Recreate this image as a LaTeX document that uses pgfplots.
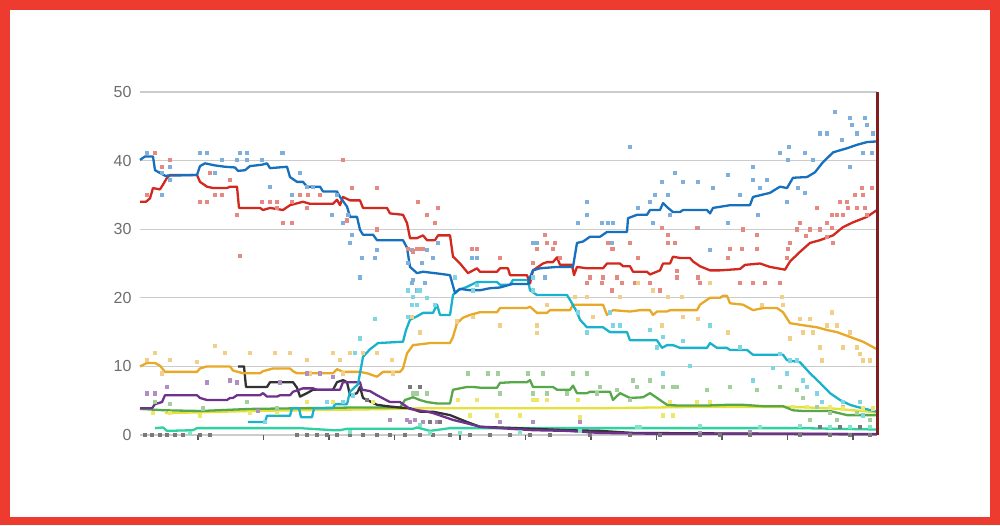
\documentclass[border=0pt]{standalone}
\usepackage{pgfplots}
\pgfplotsset{compat=1.18}
\usepackage{fontspec}
\setmainfont{Liberation Sans}
\definecolor{frame}{HTML}{EE3B30}
\definecolor{cblue}{HTML}{1670BE}
\definecolor{cred}{HTML}{D2281E}
\definecolor{ccyan}{HTML}{19B2CC}
\definecolor{corange}{HTML}{E8A828}
\definecolor{cgreen}{HTML}{56A84A}
\definecolor{cyellow}{HTML}{E6E03A}
\definecolor{cpurple}{HTML}{6E328C}
\definecolor{cdark}{HTML}{333333}
\definecolor{cteal}{HTML}{2CD2A0}
\definecolor{cline}{HTML}{821E1E}
\definecolor{tickgray}{HTML}{6E6E6E}
\begin{document}
\begin{tikzpicture}
\fill[frame] (0pt,0pt) rectangle (1000pt,525pt);
\fill[white] (10pt,8pt) rectangle (990pt,515pt);
\begin{axis}[
  at={(140pt,90pt)}, anchor=south west,
  scale only axis, width=737pt, height=343pt,
  xmin=140, xmax=877, ymin=0, ymax=50,
  clip=false,
  axis line style={draw=none},
  ytick={0,10,20,30,40,50},
  ymajorgrids, grid style={draw=black!20, line width=1.2pt},
  ytick style={draw=none},
  xtick={198,263.5,329,394.5,460,525.5,591,656.5,722,787.5,853},
  xticklabels={},
  xtick style={draw=black!65, line width=1.2pt},
  tick align=outside, tick pos=left, major tick length=5pt,
  /pgf/number format/assume math mode=true,
  yticklabel style={font=\fontsize{16}{16}\selectfont, text=tickgray},
  dot/.style={only marks, mark=square*, mark size=1.6pt, color=#1, mark options={draw=none, fill=#1}},
  ln/.style={line width=2.3pt, line join=round, no marks},
]
% ---- poll dots ----
\addplot[dot=cblue!55] coordinates {
(147,41.1)(162,38.2)(162,35)(170,39.1)(170,37.2)(200,41.1)(207,41.1)(210,38.2)(215,38.2)(222,40.1)(237,40.1)(240,41.1)(247,41.1)(247,40.1)(262,40.1)(270,36.2)(282,41.1)(292,35)(300,38.2)(307,36.2)(332,32.1)(337,35)(348,32.1)(283,41.1)(313,36.2)(343,31)(352,29.2)(350,28)(362,25.9)(360,23)(377,27)(375,25.9)(408,25.1)(412,22.2)(417,21.1)(425,22.2)(412,27)(422,25.1)(427,27)(433,25.9)(438,28)(413,22.6)(472,25.9)(477,25.9)(533,28)(537,28)(578,31)(587,34)(587,32.1)(602,31)(608,31)(613,31)(612,28)(630,42)(638,33.1)(650,34)(655,35)(662,36.9)(668,35)(675,38.2)(683,36.9)(698,36.9)(713,36)(653,31)(670,32.1)(698,30.2)(710,27)(545,23)(728,38)(753,39.1)(753,37.2)(767,37.2)(760,36)(740,35)(780,41.1)(789,42)(788,40.1)(805,41.1)(813,40.1)(820,44)(827,44)(835,47.1)(850,46.2)(865,46.2)(852,45.2)(867,45.2)(842,43)(857,44)(863,41.1)(872,41.1)(873,44)(850,39.1)(805,35.3)(787,34)(798,36)(758,32.1)(728,31)
};
\addplot[dot=cred!55] coordinates {
(155,41.1)(147,35)(162,39.1)(170,40.1)(200,34)(207,34)(210,38.2)(215,35)(222,35)(230,37.2)(262,34)(270,34)(277,34)(292,34)(300,35)(308,35)(320,35)(343,40.1)(352,36)(377,36)(237,32.1)(277,33.1)(307,33.1)(240,26.1)(283,31)(292,31)(347,31.3)(377,30)(418,34)(427,32.1)(408,27.1)(417,27.1)(423,27.1)(438,33.1)(435,31)(413,26.8)(420,27.1)(472,27.1)(477,27.1)(500,25.9)(545,29.2)(547,28)(537,27.1)(533,25.1)(553,27.1)(560,25.9)(613,27.1)(590,23)(603,23)(617,23)(555,28)(587,22.2)(602,22.2)(612,21.1)(622,22.2)(635,22.2)(650,22.2)(660,21.1)(608,28)(612,27.1)(630,28)(662,30.2)(668,29.2)(668,28)(675,28)(638,25.9)(677,24)(677,23)(697,30.2)(698,23)(700,22.2)(710,22.2)(740,22.2)(753,22.2)(765,22.2)(780,22.2)(862,36)(872,36)(863,35)(855,35)(840,34)(847,34)(848,33.1)(857,33.1)(865,33.1)(867,32.1)(817,33.1)(832,32.1)(837,32.1)(843,32.1)(800,31)(827,31)(832,30.2)(797,30)(810,30)(820,30)(827,28.9)(833,28)(806,29)(790,28)(757,29.2)(743,30)(788,27.1)(742,27.1)(730,27.1)(757,27.1)(728,25.9)(787,25.9)
};
\addplot[dot=ccyan!55] coordinates {
(408,21.1)(413,20.2)(418,21.1)(412,19)(417,19)(408,17.2)(375,17)(360,14.1)(420,21.1)(427,20)(435,19)(455,23)(473,21.1)(477,21.9)(533,21.1)(533,23)(587,15)(578,17.9)(610,17.9)(613,16)(620,16)(650,15.3)(663,14.3)(657,12.8)(683,13.7)(710,16)(690,10.1)(663,9)(740,12.8)(753,8)(773,9.8)(780,11.9)(790,10.9)(797,10.9)(787,9)(803,8)(807,7)(817,6.1)(822,4.8)(843,4.8)(860,4.8)(873,3.9)(863,2.9)(265,1.9)(327,4.8)(343,4.8)(353,5.8)(355,12)
};
\addplot[dot=corange!55] coordinates {
(155,12)(215,13)(147,11)(162,9)(170,11)(197,10.7)(225,12)(250,12)(275,12)(290,12)(307,11)(333,12)(340,11)(350,12)(363,12)(377,12)(392,11)(393,9)(343,9)(310,9)(412,17.2)(420,15)(457,16.6)(473,17.2)(500,16)(537,16)(537,14.9)(547,19)(575,20.2)(587,20.2)(620,20.2)(593,17.2)(638,22.2)(653,21.1)(668,20.2)(682,20.2)(710,22.2)(662,16)(683,17.2)(698,17)(728,15)(762,19)(782,20.2)(783,19)(800,17)(810,17)(803,15)(813,15)(827,16)(837,16)(832,17.9)(790,14.1)(820,12.8)(843,12.8)(857,12.8)(860,11.9)(870,10.9)(863,10.9)(822,10.9)(850,15)
};
\addplot[dot=cgreen!55] coordinates {
(468,9)(488,9)(498,9)(528,9)(543,9)(573,9)(587,9)(600,7)(617,6.6)(633,8)(500,6.1)(533,6.1)(547,6.1)(567,6.1)(597,6.1)(630,5.1)(413,6.1)(417,6.1)(427,6.1)(637,7)(650,8)(663,7)(673,7)(677,7)(707,6.6)(730,7)(757,6.6)(780,7)(797,6.6)(803,5.4)(817,4.1)(830,3.3)(843,4.1)(857,3.2)(870,2.2)(810,2.2)(837,2.2)(155,4.8)(170,4.6)(203,3.9)(247,4.8)(277,3.9)
};
\addplot[dot=cyellow!75] coordinates {
(458,5.1)(477,5.1)(533,5.1)(537,5.1)(547,5.1)(578,5.1)(470,2.9)(497,2.9)(520,2.9)(580,2.6)(670,4.8)(697,4.8)(710,4.8)(663,2.9)(673,2.9)(793,4.1)(807,4.1)(830,4.1)(843,3.9)(863,3.9)(873,3.9)(153,3.2)(170,3.2)(200,2.9)(250,3.3)(277,3.3)(307,4.8)(333,4.8)(373,4.8)
};
\addplot[dot=cpurple!55] coordinates {
(147,6.1)(155,6.1)(167,7)(207,7.7)(230,8)(237,7.7)(258,3.6)(280,7.7)(307,9)(320,9)(333,8.5)(390,2.2)(410,1.9)(423,1.9)(430,1.9)(437,1.9)(407,2.2)(415,2.2)(500,1.9)(533,1.9)(580,1.9)(700,0.3)(750,0.4)
};
\addplot[dot=cdark!65] coordinates {
(410,7)(420,7)(367,5.1)(145,0)(152,0)(160,0)(167,0)(175,0)(183,0)(200,0)(210,0)(297,0)(307,0)(317,0)(327,0)(337,0)(350,0)(363,0)(377,0)(390,0)(405,0)(420,0)(433,0)(450,0)(470,0)(490,0)(510,0)(530,0)(550,0)(590,0)(630,0)(660,0)(700,0)(720,0)(750,0)(800,0)(830,0)(850,0)(870,0)(820,1.2)(840,1.2)(860,1.2)(430,1.9)(440,1.9)
};
\addplot[dot=cteal!60] coordinates {
(190,0.3)(350,0.5)(420,1.5)(430,0.3)(460,0.3)(520,0.5)(580,0.6)(640,1.2)(700,1.3)(760,1.2)(800,1.3)(830,1.2)(850,1.2)(870,1.2)(637,1.2)
};
% ---- averages ----
\addplot[ln, cteal] coordinates {
(155,1.0)(163,1.1)(167,0.6)(193,0.7)(197,1.0)(273,1.0)(300,1.0)(333,0.7)(340,0.7)(347,0.9)(413,0.9)(417,1.1)(430,0.6)(450,1.0)(600,1.0)(650,1.0)(700,1.0)(800,1.0)(877,0.8)
};
\addplot[ln, cyellow] coordinates {
(165,3.2)(200,3.3)(250,3.5)(300,3.6)(350,3.7)(400,3.8)(420,3.9)(500,3.9)(600,3.9)(650,4.0)(700,4.1)(790,4.1)(830,3.9)(877,3.3)
};
\addplot[ln, cgreen] coordinates {
(140,3.8)(165,3.6)(200,3.5)(250,3.8)(300,3.9)(350,4.0)(400,4.0)(405,5.1)(413,5.5)(420,5.1)(427,4.8)(437,4.6)(450,4.6)(453,6.6)(467,7)(473,7)(480,6.9)(497,6.9)(500,7.6)(513,7.7)(527,7.7)(530,8)(533,7)(553,7)(557,6.6)(570,6.6)(573,7.2)(577,6.1)(587,6.1)(590,6.3)(610,6.3)(613,5.1)(620,6.1)(630,5.4)(643,5.5)(650,6.1)(657,5.4)(667,4.4)(677,4.3)(707,4.3)(727,4.4)(743,4.4)(763,4.2)(783,4.2)(793,3.6)(803,3.5)(830,3.5)(847,2.9)(877,2.9)
};
\addplot[ln, cdark] coordinates {
(238,10)(244,10)(246,7)(267,7)(270,7.7)(293,7.7)(297,6.9)(300,5.6)(307,6.1)(313,6.6)(333,6.6)(337,7.7)(343,8.0)(347,7.7)(350,5.8)(357,6.1)(360,7)(363,5.4)(377,4.4)(387,4.2)(400,4.0)(410,3.9)(420,3.4)(433,3.4)(450,2.9)(467,1.9)(480,1.2)(517,1.0)(567,0.7)(600,0.6)(633,0.3)(877,0.1)
};
\addplot[ln, cpurple] coordinates {
(140,3.9)(152,3.9)(155,4.5)(162,4.8)(165,5.8)(197,5.8)(200,5.4)(207,5.1)(227,5.1)(230,5.4)(233,5.4)(237,5.8)(260,5.8)(263,6.1)(267,5.6)(277,5.6)(280,5.8)(290,5.8)(293,6.3)(303,6.8)(313,6.8)(317,6.6)(340,6.6)(343,7.7)(360,7.7)(362,6.6)(370,6.4)(377,5.8)(390,4.8)(400,4.8)(403,4.5)(410,3.8)(427,3.4)(433,3.2)(453,2.2)(467,1.7)(480,1.2)(500,1.0)(533,0.7)(567,0.6)(600,0.3)(647,0.2)(877,0.15)
};
\addplot[ln, corange] coordinates {
(140,10)(147,10.5)(155,10.5)(160,10.1)(165,9.2)(197,9.2)(200,9.7)(207,10)(230,10)(233,9.4)(243,9)(260,9)(263,9.3)(273,9.7)(290,9.7)(293,9.3)(297,9)(333,9)(337,9.6)(343,9.2)(360,9.2)(367,9)(377,8.5)(383,9.2)(400,9.2)(403,9.7)(407,11.9)(413,13.1)(430,13.4)(450,13.4)(453,14.3)(457,16.3)(463,17.1)(470,17.5)(480,17.9)(497,17.9)(500,18.5)(527,18.5)(530,18.7)(537,17.8)(547,17.8)(550,18.2)(570,18.2)(573,19)(603,19)(607,17.5)(613,18.2)(630,18)(640,18.2)(650,18.2)(653,17.5)(657,18)(667,18)(670,18.2)(697,18.2)(700,19)(710,20)(720,20)(723,20.3)(727,20.3)(730,19.2)(743,19)(753,18.2)(763,18.5)(777,18.5)(783,17.9)(790,16.3)(803,16)(817,15.7)(827,15.3)(837,15)(850,14.3)(863,13.6)(877,12.5)
};
\addplot[ln, ccyan] coordinates {
(248,1.9)(265,1.9)(267,2.8)(290,2.8)(292,3.9)(299,3.9)(301,2.6)(312,2.6)(314,3.9)(333,3.9)(335,4.5)(347,4.5)(350,6.3)(358,7.4)(360,9)(363,11.4)(370,12.5)(378,13.4)(403,13.6)(406,15.3)(410,16.8)(417,17.3)(423,17.8)(433,17.8)(437,19)(440,17.5)(450,17.5)(453,20.4)(458,21.1)(467,21.6)(477,22.3)(497,22.3)(500,21.9)(510,21.9)(513,22.6)(528,22.6)(530,21.1)(537,20.4)(567,20.4)(570,19.7)(577,17.9)(580,16.8)(587,15.7)(603,15.7)(610,15)(627,15)(630,13.8)(657,13.8)(662,12.7)(667,13.1)(673,13.1)(680,12.7)(707,12.7)(710,13.4)(717,12.7)(727,12.7)(730,12.4)(747,12.4)(753,11.7)(783,11.7)(787,10.9)(800,10.6)(810,9)(820,7.6)(830,6.1)(840,5.1)(850,4.4)(857,4.1)(877,3.4)
};
\addplot[ln, cred] coordinates {
(140,34.0)(146,34.0)(150,34.5)(153,36.0)(160,35.8)(163,36.5)(167,37.5)(170,37.9)(197,37.9)(200,36.9)(207,36.2)(213,36.0)(227,36.0)(230,36.2)(237,36.2)(239,33.1)(260,33.1)(263,32.8)(270,33.1)(283,32.8)(290,33.5)(303,34.0)(310,33.7)(333,33.7)(337,34.3)(340,33.5)(343,34.7)(350,34.2)(360,34.2)(363,33.1)(387,33.1)(390,32.3)(403,32.1)(407,30.9)(410,28.7)(417,28.7)(423,29.1)(427,28.4)(435,28.4)(438,29.1)(450,29.1)(453,26)(460,25)(468,23.6)(477,24.3)(480,23.8)(497,23.8)(500,24.3)(508,24.3)(510,23.3)(527,23.3)(530,22.1)(533,24)(543,25)(547,25.2)(553,25.2)(557,25.9)(560,24.8)(572,24.8)(574,23.3)(577,24.5)(587,24.3)(603,24.3)(607,25)(620,25)(623,24.6)(630,24.6)(633,23.8)(647,23.8)(650,23.4)(660,24)(663,25)(670,25)(673,26)(680,25.8)(690,25.8)(693,25.3)(700,24.6)(710,24)(720,24)(740,24.2)(745,24.8)(760,25)(770,24.5)(785,24.1)(790,25.3)(800,26.7)(810,28)(820,28.4)(833,29.1)(843,30.3)(853,31)(867,31.8)(877,32.8)
};
\addplot[ln, cblue] coordinates {
(140,40.1)(145,40.6)(153,40.6)(155,38.6)(160,38.2)(165,37.8)(197,37.9)(200,39.2)(205,39.6)(215,39.3)(225,39.1)(235,39.0)(238,38.5)(245,38.6)(250,39.2)(262,39.4)(267,39.6)(270,38.9)(287,39.1)(290,37.6)(297,36.9)(303,36.9)(307,36.2)(320,36.2)(323,35.5)(337,35.5)(340,34.7)(347,33.3)(350,31.8)(357,31.8)(360,29.9)(363,29.2)(373,29.2)(377,28.4)(403,28.4)(407,27.3)(410,24.5)(417,23.6)(423,23.8)(440,23.5)(450,23.3)(455,20.7)(460,21.3)(470,21.1)(480,21.1)(490,21.4)(500,21.5)(512,22)(528,22)(530,23)(533,24)(540,24.3)(557,24.5)(573,24.5)(577,28)(583,28.2)(590,28.9)(600,28.9)(607,29.6)(627,29.6)(628,31.6)(637,32.1)(647,32.1)(650,32.8)(660,32.8)(663,33.8)(668,33.1)(673,32.5)(680,32.5)(683,32.8)(707,32.8)(710,32.3)(713,33.1)(730,33.5)(750,33.5)(753,34.7)(770,35.3)(780,36.2)(787,36.0)(793,37.5)(807,37.6)(815,38.3)(822,39.6)(833,41.2)(847,41.8)(857,42.3)(867,42.7)(877,42.8)
};
% ---- end marker ----
\addplot[cline, line width=3pt, no marks] coordinates {(877,0)(877,50)};
\end{axis}
\end{tikzpicture}
\end{document}
